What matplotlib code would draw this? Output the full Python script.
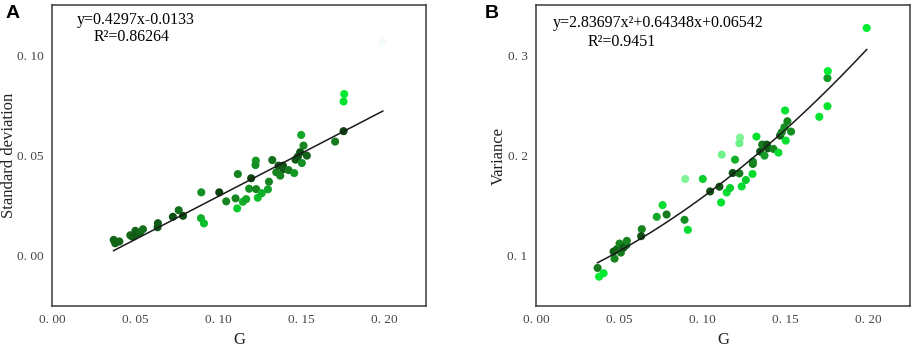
import numpy as np
import matplotlib
matplotlib.use("Agg")
import matplotlib.pyplot as plt
from matplotlib.colors import LinearSegmentedColormap

# ===== data =====
# panel A : G vs standard deviation
g_a = [0.0371, 0.0380, 0.0405, 0.0471, 0.0480, 0.0501, 0.0515, 0.0530, 0.0547, 0.0490,
       0.0637, 0.0635, 0.0727, 0.0762, 0.0788, 0.0898, 0.0896, 0.0914, 0.1006, 0.1048,
       0.1104, 0.1118, 0.1114, 0.1148, 0.1168, 0.1186, 0.1198, 0.1226, 0.1224, 0.1228,
       0.1238, 0.1262, 0.1299, 0.1305, 0.1325, 0.1349, 0.1363, 0.1373, 0.1389, 0.1393,
       0.1423, 0.1457, 0.1465, 0.1479, 0.1499, 0.1503, 0.1493, 0.1513, 0.1533, 0.1703,
       0.1754, 0.1754, 0.1758, 0.1988]
sd_a = [0.0080, 0.0063, 0.0072, 0.0103, 0.0097, 0.0125, 0.0112, 0.0117, 0.0133, 0.0097,
        0.0163, 0.0143, 0.0195, 0.0228, 0.0200, 0.0317, 0.0188, 0.0162, 0.0317, 0.0272,
        0.0287, 0.0408, 0.0237, 0.0270, 0.0283, 0.0335, 0.0387, 0.0475, 0.0453, 0.0333,
        0.0290, 0.0313, 0.0332, 0.0370, 0.0478, 0.0417, 0.0450, 0.0400, 0.0450, 0.0433,
        0.0428, 0.0413, 0.0480, 0.0495, 0.0603, 0.0463, 0.0517, 0.0550, 0.0500, 0.0570,
        0.0622, 0.0770, 0.0807, 0.1067]
shade_a = [0.20, 0.20, 0.20, 0.20, 0.25, 0.20, 0.15, 0.20, 0.25, 0.15,
           0.15, 0.15, 0.10, 0.25, 0.10, 0.40, 0.55, 0.60, 0.05, 0.35,
           0.35, 0.35, 0.65, 0.55, 0.50, 0.40, 0.05, 0.45, 0.40, 0.35,
           0.60, 0.55, 0.50, 0.35, 0.25, 0.35, 0.10, 0.35, 0.10, 0.15,
           0.30, 0.45, 0.15, 0.10, 0.50, 0.40, 0.10, 0.35, 0.20, 0.30,
           0.05, 0.72, 0.75, 1.00]

# panel B : G vs variance
g_b = [0.0371, 0.0380, 0.0407, 0.0473, 0.0467, 0.0487, 0.0503, 0.0511, 0.0527, 0.0543,
       0.0547, 0.0637, 0.0633, 0.0727, 0.0762, 0.0786, 0.0898, 0.0894, 0.0914, 0.1004,
       0.1048, 0.1104, 0.1118, 0.1114, 0.1148, 0.1168, 0.1184, 0.1198, 0.1228, 0.1224,
       0.1224, 0.1238, 0.1263, 0.1303, 0.1305, 0.1305, 0.1327, 0.1349, 0.1361, 0.1375,
       0.1389, 0.1395, 0.1429, 0.1459, 0.1469, 0.1479, 0.1499, 0.1503, 0.1495, 0.1513,
       0.1535, 0.1705, 0.1754, 0.1756, 0.1754, 0.1990]
var_b = [0.0880, 0.0793, 0.0827, 0.0973, 0.1043, 0.1067, 0.1123, 0.1033, 0.1083, 0.1107,
         0.1150, 0.1267, 0.1197, 0.1390, 0.1507, 0.1413, 0.1767, 0.1360, 0.1260, 0.1767,
         0.1643, 0.1690, 0.2010, 0.1533, 0.1633, 0.1677, 0.1827, 0.1960, 0.2180, 0.2123,
         0.1823, 0.1693, 0.1757, 0.1817, 0.1917, 0.1940, 0.2190, 0.2040, 0.2110, 0.2000,
         0.2110, 0.2073, 0.2067, 0.2030, 0.2200, 0.2233, 0.2450, 0.2150, 0.2283, 0.2343,
         0.2240, 0.2387, 0.2773, 0.2843, 0.2493, 0.3273]
shade_b = [0.30, 0.75, 0.75, 0.35, 0.15, 0.20, 0.35, 0.30, 0.15, 0.20,
           0.35, 0.35, 0.10, 0.50, 0.70, 0.30, 0.88, 0.40, 0.70, 0.65,
           0.10, 0.15, 0.86, 0.72, 0.70, 0.65, 0.10, 0.55, 0.88, 0.86,
           0.30, 0.70, 0.65, 0.70, 0.30, 0.35, 0.72, 0.10, 0.30, 0.45,
           0.15, 0.15, 0.35, 0.70, 0.15, 0.35, 0.72, 0.72, 0.40, 0.35,
           0.40, 0.72, 0.45, 0.75, 0.72, 0.75]

# fit coefficients
lin_coef = [0.4297, -0.0133]
quad_coef = [2.83697, 0.64348, 0.06542]
fit_range = [0.037, 0.199]

x_ticks = [0.00, 0.05, 0.10, 0.15, 0.20]
x_labels = ["0. 00", "0. 05", "0. 10", "0. 15", "0. 20"]
ya_ticks = [0.00, 0.05, 0.10]
ya_labels = ["0. 00", "0. 05", "0. 10"]
yb_ticks = [0.1, 0.2, 0.3]
yb_labels = ["0. 1", "0. 2", "0. 3"]

# ===== style =====
greens = LinearSegmentedColormap.from_list(
    "greens", [(0.0, "#0a3a0e"), (0.3, "#177a1e"), (0.55, "#12b02a"),
               (0.75, "#00ea30"), (1.0, "#f4fcf6")])
serif = "Liberation Serif"

fig = plt.figure(figsize=(9.13, 3.47), dpi=100)
ax_a = fig.add_axes([0.057, 0.118, 0.4096, 0.867])
ax_b = fig.add_axes([0.587, 0.118, 0.4096, 0.867])

xf = np.linspace(fit_range[0], fit_range[1], 200)


def style_axes(ax, yticks, ylabels, ylabel, ylab_x):
    ax.set_xlim(0, 0.225)
    ax.set_xticks(x_ticks)
    ax.set_xticklabels(x_labels)
    ax.set_yticks(yticks)
    ax.set_yticklabels(ylabels)
    ax.tick_params(length=0, pad=6, labelsize=9.5, labelcolor="#444444")
    for lab in ax.get_xticklabels() + ax.get_yticklabels():
        lab.set_family(serif)
    for sp in ax.spines.values():
        sp.set_color("#3a3a3a")
        sp.set_linewidth(1.1)
    ax.set_xlabel("G", family=serif, fontsize=12, color="#222222")
    ax.set_ylabel(ylabel, family=serif, fontsize=12, color="#222222")
    ax.xaxis.set_label_coords(0.5, -0.085)
    ax.yaxis.set_label_coords(ylab_x, 0.5)


# ----- A -----
ax_a.scatter(g_a, sd_a, c=shade_a, cmap=greens, vmin=0, vmax=1, s=34,
             edgecolors="none", zorder=2)
ax_a.plot(xf, np.polyval(lin_coef, xf), color="#1a1a1a", lw=1.1, zorder=3)
ax_a.set_ylim(-0.025, 0.125)
style_axes(ax_a, ya_ticks, ya_labels, "Standard deviation", -0.093)
ax_a.text(0.067, 0.95, "y=0.4297x-0.0133", transform=ax_a.transAxes,
          family=serif, fontsize=11.5, va="center", ha="left")
ax_a.text(0.112, 0.894, "R²=0.86264", transform=ax_a.transAxes,
          family=serif, fontsize=11.5, va="center", ha="left")
fig.text(0.006, 0.985, "A", family="Liberation Sans", fontweight="bold",
         fontsize=14, va="top", ha="left")

# ----- B -----
ax_b.scatter(g_b, var_b, c=shade_b, cmap=greens, vmin=0, vmax=1, s=34,
             edgecolors="none", zorder=2)
ax_b.plot(xf, np.polyval(quad_coef, xf), color="#1a1a1a", lw=1.1, zorder=3)
ax_b.set_ylim(0.05, 0.35)
style_axes(ax_b, yb_ticks, yb_labels, "Variance", -0.077)
ax_b.text(0.045, 0.94, "y=2.83697x²+0.64348x+0.06542", transform=ax_b.transAxes,
          family=serif, fontsize=11.5, va="center", ha="left")
ax_b.text(0.139, 0.877, "R²=0.9451", transform=ax_b.transAxes,
          family=serif, fontsize=11.5, va="center", ha="left")
fig.text(0.531, 0.985, "B", family="Liberation Sans", fontweight="bold",
         fontsize=14, va="top", ha="left")

fig.savefig("out.png", dpi=100)
